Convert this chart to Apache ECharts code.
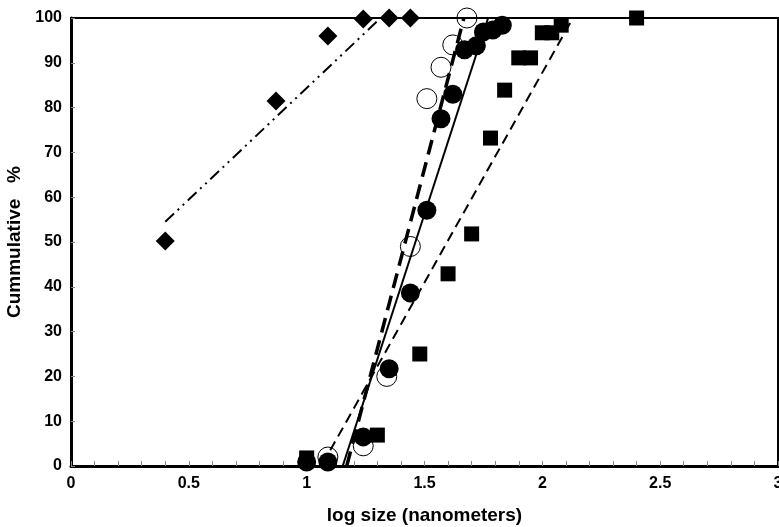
<!DOCTYPE html>
<html>
<head>
<meta charset="utf-8">
<script src="https://cdn.jsdelivr.net/npm/echarts@6/dist/echarts.min.js"></script>
<style>
  html, body { margin: 0; padding: 0; background: #fff; }
  #chart { width: 779px; height: 527px; }
</style>
</head>
<body>
<div id="chart"></div>
<script>
// measured points [log size, cumulative %]
const diamonds = [[0.4, 50.2], [0.87, 81.5], [1.09, 96], [1.24, 99.8], [1.35, 100], [1.44, 100]];
const openCircles = [[1.09, 2], [1.24, 4.5], [1.34, 20], [1.44, 49], [1.51, 82], [1.57, 89], [1.62, 94], [1.68, 100]];
const filledCircles = [
  [1.0, 0.9], [1.09, 0.9], [1.24, 6.5], [1.35, 21.7], [1.44, 38.6], [1.51, 57.1],
  [1.57, 77.5], [1.62, 83], [1.67, 92.9], [1.72, 93.8], [1.75, 96.9], [1.79, 97.3], [1.83, 98.4]
];
const squares = [
  [1.0, 1.8], [1.3, 6.9], [1.48, 25], [1.6, 42.9], [1.7, 51.8], [1.78, 73.2], [1.84, 83.9],
  [1.9, 91.1], [1.95, 91.1], [2.0, 96.7], [2.04, 96.7], [2.08, 98.4], [2.4, 100]
];

// fitted lines (end points)
const diamondFit = [[0.4, 54.5], [1.3, 99.3]];
const openFit = [[1.17, 0], [1.667, 100]];
const filledFit = [[1.153, 0], [1.77, 100]];
const squareFit = [[1.1, 3.5], [2.13, 100]];

const xTicks = ['0', '0.5', '1', '1.5', '2', '2.5', '3'];

const font = 'Liberation Sans, Arial, sans-serif';
const chart = echarts.init(document.getElementById('chart'));

const fitLine = (data, width, type) => ({
  type: 'line',
  data,
  symbol: 'none',
  silent: true,
  z: 3,
  lineStyle: { color: '#000', width, type }
});

chart.setOption({
  animation: false,
  grid: {
    left: 71,
    right: 1,
    top: 18,
    bottom: 61,
    outerBoundsMode: 'none',
    containLabel: false,
    show: true,
    borderColor: '#000',
    borderWidth: 2
  },
  xAxis: {
    type: 'value',
    min: 0,
    max: 3,
    interval: 0.5,
    name: 'log size (nanometers)',
    nameLocation: 'middle',
    nameGap: 40,
    nameTextStyle: { fontFamily: font, fontSize: 19, fontWeight: 'bold', color: '#000' },
    axisLine: { lineStyle: { color: '#000', width: 3 } },
    axisTick: { inside: true, length: 5, lineStyle: { color: '#888' } },
    minorTick: { show: true, splitNumber: 5, length: 5, lineStyle: { color: '#888' } },
    splitLine: { show: false },
    axisLabel: {
      margin: 10,
      fontFamily: font,
      fontSize: 16,
      fontWeight: 'bold',
      color: '#000',
      formatter: (v) => xTicks[Math.round(v * 2)]
    }
  },
  yAxis: {
    type: 'value',
    min: 0,
    max: 100,
    interval: 10,
    name: 'Cummulative   %',
    nameLocation: 'middle',
    nameGap: 41,
    nameTextStyle: { fontFamily: font, fontSize: 19, fontWeight: 'bold', color: '#000' },
    axisLine: { lineStyle: { color: '#000', width: 3 } },
    axisTick: { inside: true, length: 4, lineStyle: { color: '#888' } },
    splitLine: { show: false },
    axisLabel: {
      margin: 9,
      fontFamily: font,
      fontSize: 16,
      fontWeight: 'bold',
      color: '#000'
    }
  },
  series: [
    {
      type: 'scatter',
      data: diamonds,
      symbol: 'diamond',
      symbolSize: [19, 19],
      itemStyle: { color: '#000', opacity: 1 }
    },
    {
      type: 'scatter',
      data: squares,
      symbol: 'rect',
      symbolSize: 15,
      itemStyle: { color: '#000', opacity: 1 }
    },
    {
      type: 'scatter',
      data: filledCircles,
      symbol: 'circle',
      symbolSize: 19,
      itemStyle: { color: '#000', opacity: 1 }
    },
    {
      type: 'scatter',
      data: openCircles,
      symbol: 'circle',
      symbolSize: 20,
      itemStyle: { color: 'rgba(0,0,0,0)', borderColor: '#000', borderWidth: 1, opacity: 1 }
    },
    fitLine(diamondFit, 2, [12, 5, 2, 5, 2, 5]),
    fitLine(openFit, 3.5, [15, 8]),
    fitLine(filledFit, 2, 'solid'),
    fitLine(squareFit, 2, [10, 6])
  ]
});
</script>
</body>
</html>
